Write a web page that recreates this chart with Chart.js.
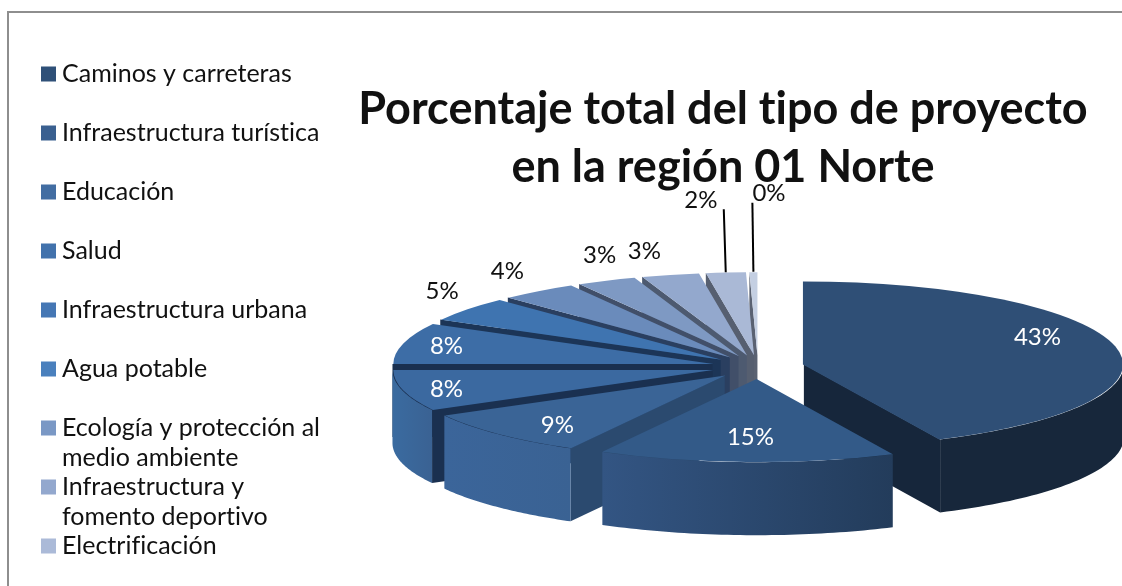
<!DOCTYPE html>
<html>
<head>
<meta charset="utf-8">
<script src="https://cdn.jsdelivr.net/npm/chart.js@4"></script>
<style>html,body{margin:0;padding:0;background:#fff;overflow:hidden}canvas{display:block}</style>
</head>
<body>
<canvas id="c" width="1122" height="586"></canvas>
<script>
const titleLines = ['Porcentaje total del tipo de proyecto', 'en la región 01 Norte'];
const categories = ['Caminos y carreteras', 'Infraestructura turística', 'Educación', 'Salud',
  'Infraestructura urbana', 'Agua potable', 'Ecología y protección al medio ambiente',
  'Infraestructura y fomento deportivo', 'Electrificación', '', ''];
const legendLines = [['Caminos y carreteras'], ['Infraestructura turística'], ['Educación'], ['Salud'],
  ['Infraestructura urbana'], ['Agua potable'], ['Ecología y protección al', 'medio ambiente'],
  ['Infraestructura y', 'fomento deportivo'], ['Electrificación']];
const values = [43, 15, 9, 8, 8, 4.8, 3.9, 3.0, 2.9, 2.0, 0.4];

const topColors  = ['#2F4F76', '#335A88', '#3A6496', '#3B69A0', '#3D6DA6', '#3F74B0', '#6A8BBB', '#7E99C3', '#93A8CD', '#AAB9D6', '#C4CFE2'];
const legendColors = ['#2F5078', '#3A6090', '#426DA2', '#4272AC', '#4577B4', '#4A80BD', '#7A98C5', '#93A8CE', '#ABBAD8'];
const rimLeft    = ['#17273B', '#335583', '#3B659A', '#3A6BA0', '#3D6DA6', '#3F74B0', '#6A8BBB', '#7E99C3', '#93A8CD', '#AAB9D6', '#C4CFE2'];
const rimRight   = ['#17273B', '#233C5B', '#3A6293', '#3A6293', '#3D6DA6', '#3F74B0', '#6A8BBB', '#7E99C3', '#93A8CD', '#AAB9D6', '#C4CFE2'];
const wallColors = ['#16263B', '#233C5B', '#2B4A6F', '#1A3050', '#1A3050', '#1C3557', '#2A3F60', '#414F69', '#4D5A70', '#565F70', '#5A6272'];

// Layout of the flattened pie on the page
const PIE = { cx: 758, cy: 367, rx: 320, ry: 83, depth: 73, explode: 47 };
// [radial factor, nudge x, nudge y] for each percent label
const labelPlace = [[.7,15,-14],[.7,1,0],[.7,-9,9],[.9,13,1],[.9,13,1],[1.1,1,-13],[1.1,-11,-13],[1.1,7,-18],[1.1,-18,-15],[1.1,-22,-64],[1.1,16,-70]];
const labelColors = ['#fff','#fff','#fff','#fff','#fff','#111','#111','#111','#111','#111','#111'];
const leaders = { 9: [-2, -63], 10: [-1, -69] };

const FONT = 'Lato, "Open Sans", sans-serif';

function geom(arc) {
  const p = arc.getProps(['x','y','startAngle','endAngle','outerRadius','circumference'], true);
  const Rd = p.outerRadius;
  const sx = PIE.rx / Rd, sy = PIE.ry / Rd;
  const mid = (p.startAngle + p.endAngle) / 2;
  const fix = 1 - Math.sin(Math.min(Math.PI, p.circumference || 0));
  const ax = PIE.cx + Math.cos(mid) * PIE.explode;
  const ay = PIE.cy + Math.sin(mid) * PIE.explode * PIE.ry / PIE.rx;
  const pt = (ang, r) => [ax + sx * r * Math.cos(ang), ay + sy * r * Math.sin(ang)];
  return { p, Rd, sx, sy, mid, ax, ay, pt, fix };
}

function poly(ctx, pts, fill) {
  ctx.beginPath();
  pts.forEach((q, i) => i ? ctx.lineTo(q[0], q[1]) : ctx.moveTo(q[0], q[1]));
  ctx.closePath();
  ctx.fillStyle = fill;
  ctx.fill();
}

const pie3d = {
  id: 'pie3d',
  beforeDraw(chart) {
    const ctx = chart.ctx;
    ctx.textRendering = 'optimizeSpeed';
    ctx.save();
    ctx.fillStyle = '#fff';
    ctx.fillRect(0, 0, chart.width, chart.height);
    ctx.strokeStyle = '#8E8E8E';
    ctx.lineWidth = 2;
    ctx.strokeRect(8, 12, chart.width + 20, chart.height + 20);
    // legend
    ctx.textBaseline = 'middle';
    ctx.textAlign = 'left';
    ctx.font = '25px ' + FONT;
    legendLines.forEach((lines, i) => {
      const y = 74 + i * 59;
      ctx.fillStyle = legendColors[i];
      ctx.fillRect(41, y - 7.5, 15, 15);
      ctx.fillStyle = '#111';
      lines.forEach((t, j) => ctx.fillText(t, 62, y + j * 30));
    });
    ctx.restore();
  },
  beforeDatasetDraw(chart) {
    const ctx = chart.ctx;
    const arcs = chart.getDatasetMeta(0).data;
    const order = arcs.map((a, i) => i).sort((a, b) =>
      Math.sin(geom(arcs[a]).mid) - Math.sin(geom(arcs[b]).mid));
    const T = PIE.depth;
    order.forEach(i => {
      const arc = arcs[i], g = geom(arc), a = g.p.startAngle, b = g.p.endAngle;
      // radial walls that face the viewer
      const wall = ang => {
        const e = g.pt(ang, g.Rd);
        poly(ctx, [[g.ax, g.ay], e, [e[0], e[1] + T], [g.ax, g.ay + T]], wallColors[i]);
      };
      if (Math.cos(a) < -1e-6) wall(a);
      if (Math.cos(b) > 1e-6) wall(b);
      // outer rim, only the part on the near side
      for (const k of [0, 2]) {
        const from = Math.max(a, k * Math.PI), to = Math.min(b, k * Math.PI + Math.PI);
        if (to <= from) continue;
        const pts = [], n = 48;
        for (let s = 0; s <= n; s++) pts.push(g.pt(from + (to - from) * s / n, g.Rd));
        const back = pts.slice().reverse().map(q => [q[0], q[1] + T]);
        const xs = pts.map(q => q[0]);
        const lg = ctx.createLinearGradient(Math.min(...xs), 0, Math.max(...xs), 0);
        lg.addColorStop(0, rimLeft[i]);
        lg.addColorStop(1, rimRight[i]);
        poly(ctx, pts.concat(back), lg);
      }
      // top face: drawn by the library's arc element under a flattening transform
      ctx.save();
      ctx.translate(g.ax, g.ay);
      ctx.scale(g.sx, g.sy);
      ctx.translate(-g.p.x - Math.cos(g.mid) * g.fix, -g.p.y - Math.sin(g.mid) * g.fix);
      arc.draw(ctx);
      ctx.restore();
    });
    // percent labels and leader lines
    ctx.save();
    ctx.font = '24px ' + FONT;
    ctx.textAlign = 'center';
    ctx.textBaseline = 'middle';
    arcs.forEach((arc, i) => {
      const g = geom(arc), lp = labelPlace[i];
      const q = g.pt(g.mid, lp[0] * g.Rd);
      ctx.fillStyle = labelColors[i];
      ctx.fillText(Math.round(values[i]) + '%', q[0] + lp[1], q[1] + lp[2]);
      if (leaders[i]) {
        const e = g.pt(g.mid, g.Rd);
        ctx.strokeStyle = '#000';
        ctx.lineWidth = 2;
        ctx.beginPath();
        ctx.moveTo(e[0], e[1]);
        ctx.lineTo(e[0] + leaders[i][0], e[1] + leaders[i][1]);
        ctx.stroke();
      }
    });
    ctx.restore();
    return false; // arcs were already drawn in depth order
  }
};

new Chart(document.getElementById('c'), {
  type: 'pie',
  data: {
    labels: categories,
    datasets: [{
      data: values,
      backgroundColor: topColors,
      borderWidth: 0
    }]
  },
  options: {
    responsive: false,
    animation: false,
    layout: { padding: { left: 336, right: 12, top: 0, bottom: 10 } },
    plugins: {
      legend: { display: false },
      tooltip: { enabled: false },
      title: {
        display: true,
        text: titleLines,
        fullSize: false,
        color: '#111',
        font: { family: FONT, size: 45, weight: 'bold', lineHeight: 1.29 },
        padding: { top: 80, bottom: 0 }
      }
    }
  },
  plugins: [pie3d]
});
</script>
</body>
</html>
